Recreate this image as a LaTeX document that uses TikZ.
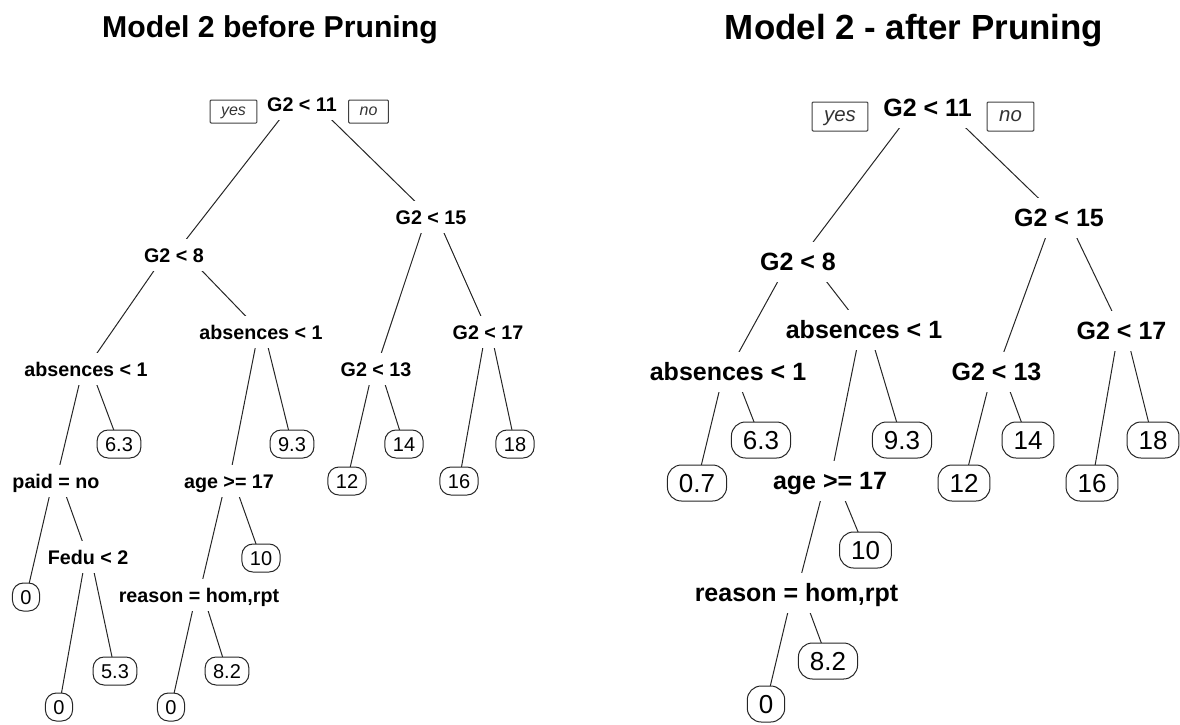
\documentclass[tikz,border=0pt]{standalone}
\usepackage{fontspec}
\setmainfont{Liberation Sans}
\usetikzlibrary{backgrounds}
\tikzset{
  ttl/.style={anchor=base, inner sep=0pt, font=\bfseries},
  lsplit/.style={fill=white, font=\fontsize{19.7}{20}\selectfont\bfseries, text height=14.1pt, text depth=0pt, inner xsep=2pt, inner ysep=9pt},
  rsplit/.style={fill=white, font=\fontsize{25}{26}\selectfont\bfseries, text height=17.9pt, text depth=0pt, inner xsep=2pt, inner ysep=11pt},
  lleaf/.style={draw=black!85, line width=1pt, fill=white, rounded corners=11pt, font=\fontsize{20}{20}\selectfont, text height=14.3pt, text depth=0pt, inner xsep=8pt, inner ysep=6.85pt},
  rleaf/.style={draw=black!85, line width=1pt, fill=white, rounded corners=14pt, font=\fontsize{26}{26}\selectfont, text height=18.6pt, text depth=0pt, inner xsep=11.5pt, inner ysep=8.7pt},
  lyn/.style={draw=black!75, line width=1pt, text=black!80, rounded corners=1pt, font=\fontsize{16}{16}\selectfont\itshape, text height=8.3pt, text depth=0pt, inner xsep=11pt, inner ysep=0pt, minimum height=23pt},
  ryn/.style={draw=black!75, line width=1pt, text=black!80, rounded corners=1pt, font=\fontsize{20.4}{21}\selectfont\itshape, text height=10.6pt, text depth=0pt, inner xsep=12pt, inner ysep=0pt, minimum height=29pt},
  branch/.style={draw=black!85, line width=1pt}
}
\begin{document}
\begin{tikzpicture}[x=1pt,y=-1pt]
\useasboundingbox (0,0) rectangle (1180,724);
% titles
\node[ttl, font=\fontsize{30.2}{32}\selectfont\bfseries] (ltitle) at (270,37) {Model 2 before Pruning};
\node[ttl, font=\fontsize{34.9}{36}\selectfont\bfseries] (rtitle) at (914,39) {Model 2 - after Pruning};

% tree before pruning
\node[lsplit] (lroot) at (302,104) {G2 < 11};
\node[lyn] (lyes) at (233.5,111.5) {yes}; \node[lyn] (lno) at (368.5,111.5) {no};
\node[lsplit] (lg8) at (174,255) {G2 < 8}; \node[lsplit] (lg15) at (431,217) {G2 < 15};
\node[lsplit] (labsa) at (86,369) {absences < 1}; \node[lsplit] (labsb) at (261,332) {absences < 1};
\node[lsplit] (lg13) at (376,369) {G2 < 13}; \node[lsplit] (lg17) at (488,332) {G2 < 17};
\node[lleaf] (l63) at (119,444) {6.3}; \node[lleaf] (l93) at (292,444) {9.3};
\node[lleaf] (l14) at (404,444) {14}; \node[lleaf] (l18) at (515,444) {18};
\node[lsplit] (lpaid) at (56,481) {paid = no}; \node[lsplit] (lage) at (229,481) {age >= 17};
\node[lleaf] (l12) at (347,481) {12}; \node[lleaf] (l16) at (459,481) {16};
\node[lleaf] (lz1) at (26,597) {0}; \node[lsplit] (lfedu) at (88,557) {Fedu < 2};
\node[lleaf] (l10) at (261,558) {10}; \node[lsplit] (lreason) at (199,595) {reason = hom,rpt};
\node[lleaf] (l53) at (115,671) {5.3}; \node[lleaf] (l82) at (227,671) {8.2};
\node[lleaf] (lz2) at (59,707) {0}; \node[lleaf] (lz3) at (171,707) {0};

% tree after pruning
\node[rsplit] (rroot) at (927.5,108) {G2 < 11};
\node[ryn] (ryes) at (840,116.5) {yes}; \node[ryn] (rno) at (1010.5,116.5) {no};
\node[rsplit] (rg8) at (798,262) {G2 < 8}; \node[rsplit] (rg15) at (1059,218) {G2 < 15};
\node[rsplit] (rabsa) at (728,372) {absences < 1}; \node[rsplit] (rabsb) at (864,330) {absences < 1};
\node[rsplit] (rg13) at (996.5,372) {G2 < 13}; \node[rsplit] (rg17) at (1121.5,331) {G2 < 17};
\node[rleaf] (r63) at (761,440) {6.3}; \node[rleaf] (r93) at (902,440) {9.3};
\node[rleaf] (r14) at (1028,440) {14}; \node[rleaf] (r18) at (1153,440) {18};
\node[rleaf] (r07) at (697,483) {0.7}; \node[rsplit] (rage) at (830,481) {age >= 17};
\node[rleaf] (r12) at (964,483) {12}; \node[rleaf] (r16) at (1092,483) {16};
\node[rleaf] (r10) at (865.5,550) {10}; \node[rsplit] (rreason) at (796.5,593) {reason = hom,rpt};
\node[rleaf] (r82) at (828,661) {8.2}; \node[rleaf] (rz) at (766,704) {0};

% branches
\begin{scope}[on background layer]
\foreach \p/\c in {lroot/lg8, lroot/lg15, lg8/labsa, lg8/labsb, labsa/lpaid, labsa/l63, lpaid/lz1, lpaid/lfedu,
  lfedu/lz2, lfedu/l53, labsb/lage, labsb/l93, lage/lreason, lage/l10, lreason/lz3, lreason/l82,
  lg15/lg13, lg15/lg17, lg13/l12, lg13/l14, lg17/l16, lg17/l18,
  rroot/rg8, rroot/rg15, rg8/rabsa, rg8/rabsb, rabsa/r07, rabsa/r63, rabsb/rage, rabsb/r93,
  rage/rreason, rage/r10, rreason/rz, rreason/r82, rg15/rg13, rg15/rg17, rg13/r12, rg13/r14, rg17/r16, rg17/r18}
  \draw[branch] ([yshift=-3pt]\p.north) -- (\c.center);
\end{scope}
\end{tikzpicture}
\end{document}
